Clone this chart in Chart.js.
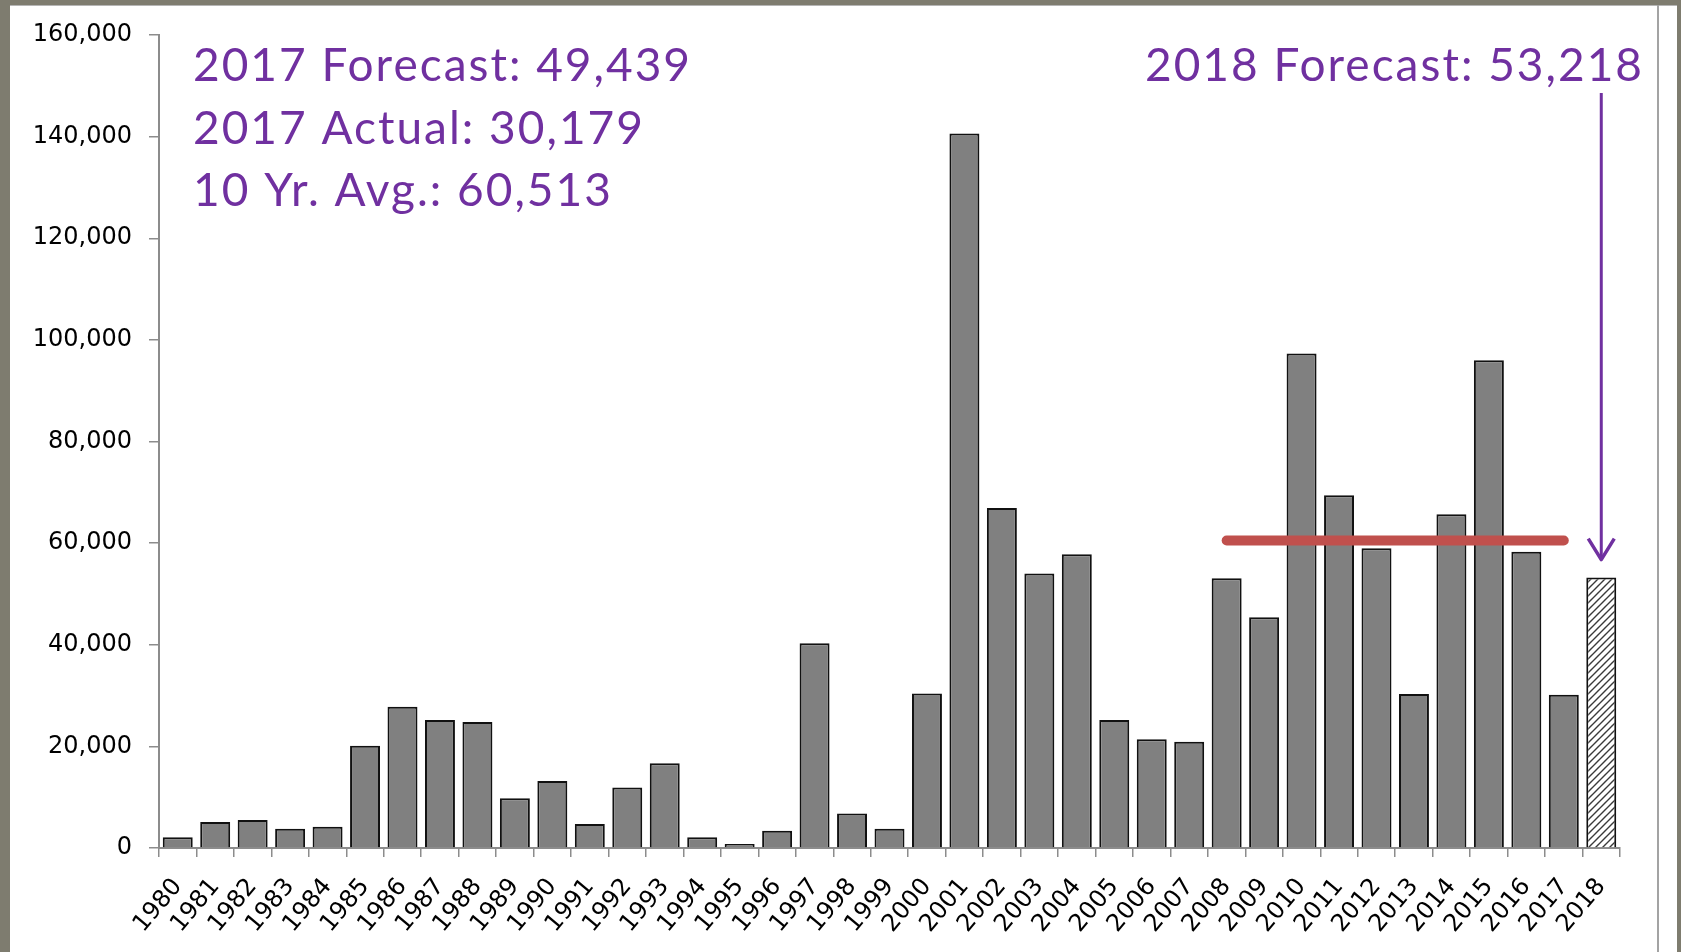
<!DOCTYPE html>
<html>
<head>
<meta charset="utf-8">
<script src="https://cdn.jsdelivr.net/npm/chart.js@4.4.1/dist/chart.umd.min.js"></script>
<style>
  html, body { margin: 0; padding: 0; background: #7e7c6f; overflow: hidden; }
  #panel { position: absolute; left: 10px; top: 5px; width: 1667px; height: 947px; background: #fff; border-top: 1px solid #b5b5b5; }
  #edge { position: absolute; left: 1657px; top: 5px; width: 2px; height: 947px; background: #a3a3a3; }
  #chart { position: absolute; left: 0; top: 0; }
</style>
</head>
<body>
<div id="panel"></div>
<div id="edge"></div>
<canvas id="chart" width="1681" height="952"></canvas>
<script>
  const years = [
    '1980','1981','1982','1983','1984','1985','1986','1987','1988','1989',
    '1990','1991','1992','1993','1994','1995','1996','1997','1998','1999',
    '2000','2001','2002','2003','2004','2005','2006','2007','2008','2009',
    '2010','2011','2012','2013','2014','2015','2016','2017','2018'
  ];
  const totals = [
    2100, 5100, 5500, 3800, 4200, 20100, 27800, 25200, 24800, 9800,
    13200, 4700, 11900, 16700, 2100, 800, 3400, 40300, 6800, 3800,
    30400, 140600, 66900, 54000, 57800, 25200, 21400, 20900, 53100, 45400,
    97300, 69400, 59000, 30300, 65700, 96000, 58300, 30179, 53218
  ];
  const forecast2017 = 49439;
  const actual2017 = 30179;
  const tenYearAvg = 60513;
  const forecast2018 = 53218;
  const avgFrom = '2008';
  const avgTo = '2017';
  const yTicks = [0, 20000, 40000, 60000, 80000, 100000, 120000, 140000, 160000];

  const fmt = v => v.toLocaleString('en-US');
  const purple = '#7030a0';

  // hatched fill for the forecast year
  function hatch() {
    const c = document.createElement('canvas');
    c.width = 7; c.height = 7;
    const g = c.getContext('2d');
    g.fillStyle = '#fff';
    g.fillRect(0, 0, 7, 7);
    g.strokeStyle = '#3a3a3a';
    g.lineWidth = 1.4;
    g.beginPath();
    g.moveTo(0, 7); g.lineTo(7, 0);
    g.moveTo(-1, 1); g.lineTo(1, -1);
    g.moveTo(6, 8); g.lineTo(8, 6);
    g.stroke();
    return g.createPattern(c, 'repeat');
  }

  const barColors = years.map((y, i) => i === years.length - 1 ? hatch() : '#808080');
  const i0 = years.indexOf(avgFrom), i1 = years.indexOf(avgTo);
  const avgLine = years.map((y, i) => (i >= i0 && i <= i1) ? tenYearAvg : null);

  const notes = {
    id: 'notes',
    afterDatasetsDraw(chart) {
      const ctx = chart.ctx;
      const x = chart.scales.x, y = chart.scales.y;
      ctx.save();
      ctx.fillStyle = purple;
      ctx.font = '46px Lato';
      ctx.letterSpacing = '2px';
      ctx.textBaseline = 'alphabetic';
      ctx.textAlign = 'left';
      const lines = [
        '2017 Forecast: ' + fmt(forecast2017),
        '2017 Actual: ' + fmt(actual2017),
        '10 Yr. Avg.: ' + fmt(tenYearAvg)
      ];
      lines.forEach((t, k) => ctx.fillText(t, 193, 81 + k * 62.5));
      ctx.textAlign = 'right';
      ctx.fillText('2018 Forecast: ' + fmt(forecast2018), 1644, 81);

      // arrow down to the forecast bar
      const ax = x.getPixelForValue(years.length - 1);
      const tip = y.getPixelForValue(forecast2018) - 18;
      ctx.strokeStyle = purple;
      ctx.lineWidth = 3;
      ctx.beginPath();
      ctx.moveTo(ax, 93);
      ctx.lineTo(ax, tip);
      ctx.stroke();
      ctx.lineWidth = 3.5;
      ctx.lineJoin = 'round';
      ctx.beginPath();
      ctx.moveTo(ax - 13, tip - 21);
      ctx.lineTo(ax, tip);
      ctx.lineTo(ax + 13, tip - 21);
      ctx.stroke();
      ctx.restore();
    }
  };

  new Chart(document.getElementById('chart'), {
    type: 'bar',
    data: {
      labels: years,
      datasets: [
        {
          type: 'line',
          label: '10 Yr. Avg.',
          data: avgLine,
          borderColor: '#c0504d',
          borderWidth: 10,
          borderCapStyle: 'round',
          pointRadius: 0,
          spanGaps: false,
          order: 0
        },
        {
          type: 'bar',
          label: 'Total',
          data: totals,
          backgroundColor: barColors,
          borderColor: '#111',
          borderWidth: 2,
          borderSkipped: 'bottom',
          barPercentage: 0.8,
          categoryPercentage: 1,
          order: 1
        }
      ]
    },
    options: {
      responsive: false,
      animation: false,
      layout: { padding: { left: 9, top: 35, right: 61, bottom: 0 } },
      plugins: { legend: { display: false }, tooltip: { enabled: false } },
      scales: {
        x: {
          offset: true,
          grid: { display: true, drawOnChartArea: false, drawTicks: true, tickLength: 9, color: '#8c8c8c', lineWidth: 1.5, offset: true },
          border: { display: true, color: '#8c8c8c', width: 2 },
          ticks: {
            autoSkip: false, maxRotation: 50, minRotation: 50, padding: 16,
            color: '#000', font: { family: 'DejaVu Sans', size: 24 }
          },
          afterFit: s => { s.height = 104; }
        },
        y: {
          min: 0, max: 160000,
          afterBuildTicks: s => { s.ticks = yTicks.map(v => ({ value: v })); },
          grid: { display: true, drawOnChartArea: false, drawTicks: true, tickLength: 10, color: '#8c8c8c', lineWidth: 1.5 },
          border: { display: true, color: '#8c8c8c', width: 2 },
          ticks: {
            padding: 17, color: '#000',
            font: { family: 'DejaVu Sans', size: 24 },
            callback: v => fmt(v)
          },
          afterFit: s => { s.width = 150; }
        }
      }
    },
    plugins: [notes]
  });
</script>
</body>
</html>
